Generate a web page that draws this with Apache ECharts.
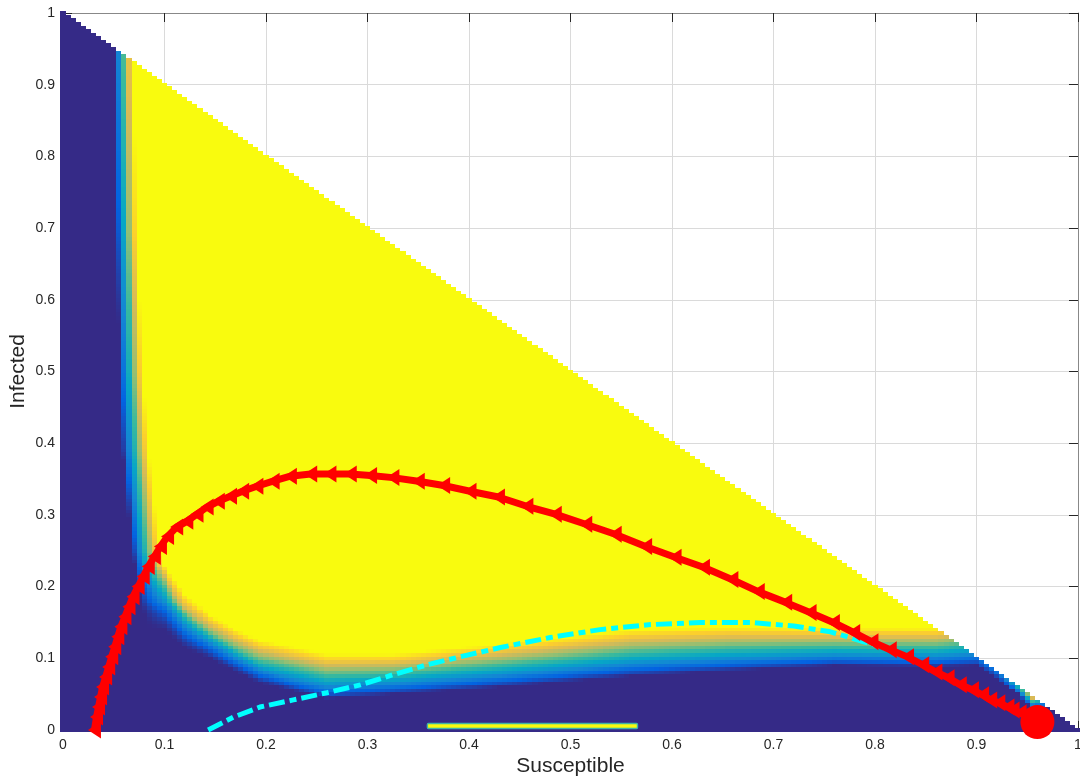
<!DOCTYPE html>
<html>
<head>
<meta charset="utf-8">
<script src="https://cdn.jsdelivr.net/npm/echarts@6/dist/echarts.min.js"></script>
<style>
html,body{margin:0;padding:0;background:#fff;}
#chart{width:1080px;height:780px;}
</style>
</head>
<body>
<div id="chart"></div>
<script>
// ---- tick labels / axes ----
const xTicks = [0, 0.1, 0.2, 0.3, 0.4, 0.5, 0.6, 0.7, 0.8, 0.9, 1];
const yTicks = [0, 0.1, 0.2, 0.3, 0.4, 0.5, 0.6, 0.7, 0.8, 0.9, 1];

// ---- red trajectory (markers '<') ----
const redS = [0.960,0.955,0.950,0.943,0.936,0.931,0.922,0.914,0.906,0.896,0.884,0.872,0.860,0.847,0.832,0.815,0.797,0.779,0.759,0.736,0.712,0.685,0.659,0.631,0.603,0.574,0.544,0.515,0.485,0.457,0.429,0.401,0.375,0.350,0.325,0.303,0.283,0.263,0.244,0.224,0.207,0.191,0.177,0.165,0.153,0.142,0.132,0.122,0.112,0.103,0.096,0.090,0.084,0.079,0.074,0.069,0.065,0.061,0.057,0.054,0.051,0.048,0.045,0.042,0.039,0.037,0.035,0.033,0.031];
const redI = [0.011,0.015,0.020,0.024,0.028,0.032,0.038,0.042,0.049,0.056,0.063,0.073,0.081,0.091,0.102,0.112,0.123,0.136,0.150,0.164,0.178,0.193,0.210,0.227,0.241,0.256,0.273,0.287,0.301,0.312,0.325,0.333,0.341,0.347,0.352,0.355,0.357,0.357,0.357,0.354,0.347,0.340,0.333,0.326,0.319,0.311,0.301,0.291,0.283,0.270,0.256,0.242,0.228,0.214,0.200,0.186,0.172,0.158,0.144,0.130,0.116,0.102,0.088,0.074,0.060,0.046,0.032,0.018,0.000];

// ---- start point (big red dot) ----
const startS = 0.960, startI = 0.011;

// ---- cyan dash-dot curve ----
const cyanS = [0.143,0.168,0.194,0.227,0.260,0.293,0.325,0.359,0.391,0.431,0.480,0.529,0.579,0.628,0.677,0.720,0.756,0.789,0.815,0.832];
const cyanI = [0.000,0.018,0.032,0.042,0.052,0.063,0.077,0.091,0.102,0.115,0.129,0.140,0.147,0.150,0.150,0.145,0.137,0.123,0.112,0.102];

// ---- colour field: transition boundaries ----
// left band (dark -> yellow), as s positions for given I
const leftI      = [0.000,0.060,0.100,0.136,0.180,0.250,0.390,0.500,0.700,0.900,1.000];
const leftDark   = [0.150,0.130,0.105,0.086,0.075,0.068,0.059,0.056,0.053,0.051,0.050];
const leftYellow = [0.260,0.230,0.185,0.145,0.112,0.095,0.084,0.078,0.072,0.069,0.068];
// bottom band (dark -> yellow), as I positions for given s
const bottomS      = [0.000,0.100,0.120,0.145,0.170,0.194,0.260,0.326,0.430,0.560,0.660,0.760,0.860,0.900,0.920,0.940,0.955,0.970,1.000];
const bottomDark   = [0.150,0.140,0.115,0.100,0.082,0.066,0.044,0.050,0.060,0.075,0.083,0.090,0.088,0.090,0.072,0.050,0.030,0.030,0.030];
const bottomYellow = [0.240,0.230,0.190,0.160,0.140,0.125,0.106,0.106,0.120,0.140,0.144,0.142,0.142,0.150,0.120,0.075,0.050,0.060,0.060];
// thin strip at bottom
const stripS = [0.359, 0.566];
const stripI = 0.0055;
const cellStep = 0.005;

const parula = ['#352A87','#0363E1','#1485D4','#06A7C6','#38B99E','#92BF73','#D9BA56','#FCCE2E','#F9FB0E'];

function lerpArr(xs, ys, x) {
  if (x <= xs[0]) return ys[0];
  for (let k = 1; k < xs.length; k++) {
    if (x <= xs[k]) {
      const t = (x - xs[k-1]) / (xs[k] - xs[k-1]);
      return ys[k-1] + t * (ys[k] - ys[k-1]);
    }
  }
  return ys[ys.length-1];
}
const clamp01 = v => Math.max(0, Math.min(1, v));

const cells = [];
const n = Math.round(1 / cellStep);
for (let j = 0; j <= n; j++) {
  for (let i = 0; i <= n - j; i++) {
    const s = i * cellStep, I = j * cellStep;
    const dL = lerpArr(leftI, leftDark, I), yL = lerpArr(leftI, leftYellow, I);
    const dB = lerpArr(bottomS, bottomDark, s), yB = lerpArr(bottomS, bottomYellow, s);
    const tL = clamp01((s - dL) / (yL - dL));
    const tB = clamp01((I - dB) / (yB - dB));
    cells.push([+s.toFixed(4), +I.toFixed(4), tL * tB]);
  }
}

const redData = redS.map((s, k) => [s, redI[k]]);
const cyanData = cyanS.map((s, k) => [s, cyanI[k]]);

const chart = echarts.init(document.getElementById('chart'), null, {renderer: 'canvas'});
const axisFont = {fontFamily: 'Liberation Sans, Arial, Helvetica, sans-serif', fontSize: 14, color: '#262626'};
const nameFont = {fontFamily: 'Liberation Sans, Arial, Helvetica, sans-serif', fontSize: 21, color: '#262626'};
const fmt = v => String(+v.toFixed(1));

const option = {
  animation: false,
  backgroundColor: '#ffffff',
  grid: {left: 63, right: 2, top: 13, bottom: 50, show: false, containLabel: false, outerBoundsMode: 'none'},
  visualMap: {
    show: false, type: 'continuous', min: 0, max: 1, dimension: 2, seriesIndex: 0,
    inRange: {color: parula}
  },
  xAxis: [{
    type: 'value', min: xTicks[0], max: xTicks[xTicks.length-1], interval: 0.1,
    name: 'Susceptible', nameLocation: 'middle', nameGap: 26, nameMoveOverlap: false,
    nameTextStyle: nameFont,
    axisLine: {show: true, onZero: false, lineStyle: {color: '#555', width: 1}},
    axisTick: {show: true, inside: true, length: 9, lineStyle: {color: '#262626'}},
    axisLabel: Object.assign({margin: 8, formatter: fmt}, axisFont),
    splitLine: {show: true, lineStyle: {color: '#dadada', width: 1}}
  }, {
    type: 'value', position: 'top', min: 0, max: 1, interval: 0.1,
    axisLine: {show: true, onZero: false, lineStyle: {color: '#888', width: 1}},
    axisTick: {show: true, inside: true, length: 9, lineStyle: {color: '#262626'}},
    axisLabel: {show: false}, splitLine: {show: false}
  }],
  yAxis: [{
    type: 'value', min: yTicks[0], max: yTicks[yTicks.length-1], interval: 0.1,
    name: 'Infected', nameLocation: 'middle', nameGap: 34, nameRotate: 90, nameMoveOverlap: false,
    nameTextStyle: nameFont,
    axisLine: {show: true, onZero: false, lineStyle: {color: '#888', width: 1}},
    axisTick: {show: true, inside: true, length: 9, lineStyle: {color: '#262626'}},
    axisLabel: Object.assign({margin: 8, formatter: fmt}, axisFont),
    splitLine: {show: true, lineStyle: {color: '#dadada', width: 1}}
  }, {
    type: 'value', position: 'right', min: 0, max: 1, interval: 0.1,
    axisLine: {show: true, onZero: false, lineStyle: {color: '#888', width: 1}},
    axisTick: {show: true, inside: true, length: 9, lineStyle: {color: '#262626'}},
    axisLabel: {show: false}, splitLine: {show: false}
  }],
  series: [{
    type: 'custom', name: 'field', coordinateSystem: 'cartesian2d', clip: true, z: 1,
    silent: true,
    data: cells,
    encode: {x: 0, y: 1},
    renderItem: function (params, api) {
      const s = api.value(0), I = api.value(1), h = cellStep / 2;
      const p0 = api.coord([s - h, I + h]);
      const p1 = api.coord([s + h, I - h]);
      const x0 = Math.round(p0[0]), y0 = Math.round(p0[1]);
      const x1 = Math.round(p1[0]), y1 = Math.round(p1[1]);
      return {
        type: 'rect',
        shape: {x: x0, y: y0, width: x1 - x0, height: y1 - y0},
        style: {fill: api.visual('color'), stroke: null}
      };
    }
  }, {
    type: 'custom', name: 'strip', coordinateSystem: 'cartesian2d', clip: true, z: 2, silent: true,
    data: [[stripS[0], stripS[1], stripI]],
    encode: {x: [0, 1], y: 2},
    renderItem: function (params, api) {
      const a = api.coord([api.value(0), api.value(2) + 0.0035]);
      const b = api.coord([api.value(1), api.value(2) - 0.0035]);
      return {
        type: 'rect',
        shape: {x: a[0], y: a[1], width: b[0] - a[0], height: b[1] - a[1], r: 1},
        style: {fill: '#F9FB0E', stroke: '#3DB6A6', lineWidth: 1.4}
      };
    }
  }, {
    type: 'line', name: 'cyan', data: cyanData, z: 3, showSymbol: false, smooth: false,
    lineStyle: {color: '#00FFFF', width: 5, type: [16, 5, 7, 5]}
  }, {
    type: 'line', name: 'red', data: redData, z: 4, smooth: false,
    showAllSymbol: true, symbol: 'triangle', symbolRotate: 90, symbolSize: [17, 13],
    itemStyle: {color: '#FF0000', borderWidth: 0, opacity: 1},
    lineStyle: {color: '#FF0000', width: 7}
  }, {
    type: 'scatter', name: 'start', data: [[startS, startI]], z: 5,
    symbol: 'circle', symbolSize: 34, itemStyle: {color: '#FF0000', opacity: 1}
  }]
};
chart.setOption(option);
</script>
</body>
</html>
